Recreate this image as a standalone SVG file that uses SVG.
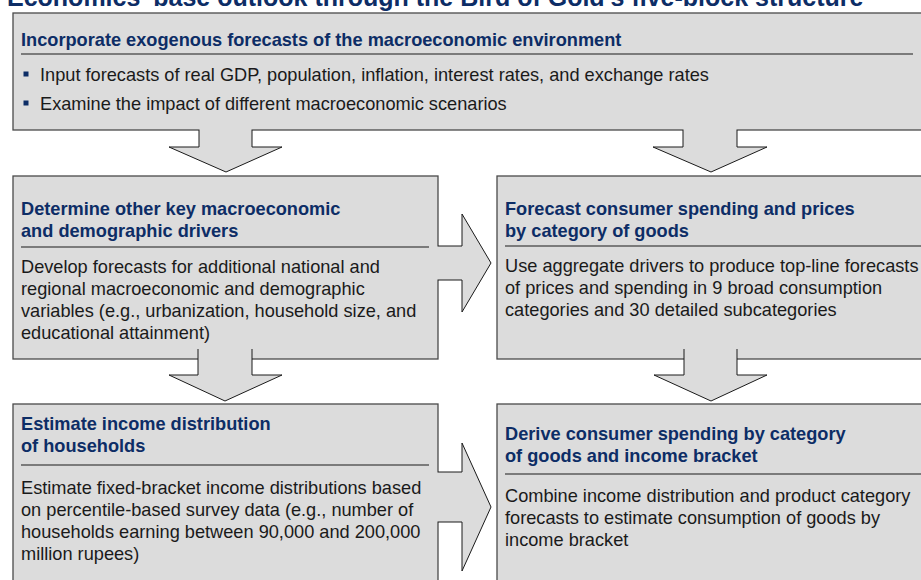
<svg xmlns="http://www.w3.org/2000/svg" width="921" height="580" viewBox="0 0 921 580">
<style>
.box{fill:#dcdcdc;stroke:#4a4a4a;stroke-width:1.3}
.arrow{fill:#dcdcdc;stroke:#1a1a1a;stroke-width:1}
.cover{fill:#dcdcdc;stroke:none}
.rule{stroke:#1a1a1a;stroke-width:1}
.title{font-family:"Liberation Sans",Arial,sans-serif;font-size:25px;font-weight:bold;fill:#0d2d66}
.hd{font-family:"Liberation Sans",Arial,sans-serif;font-size:18.2px;font-weight:bold;fill:#0d2d66}
.tx{font-family:"Liberation Sans",Arial,sans-serif;font-size:18.2px;fill:#1a1a1a}
.bul{fill:#0d2d66}
</style>
<rect width="921" height="580" fill="#ffffff"/>
<text class="title" x="7" y="6">Economics' base outlook through the Bird of Gold's five-block structure</text>

<g id="block1">
<rect class="box" x="13" y="13" width="920" height="117"/>
<text class="hd" x="21" y="46">Incorporate exogenous forecasts of the macroeconomic environment</text>
<line class="rule" x1="21" y1="54" x2="913" y2="54"/>
<rect class="bul" x="23.5" y="71.5" width="5" height="5"/>
<text class="tx" x="40" y="81">Input forecasts of real GDP, population, inflation, interest rates, and exchange rates</text>
<rect class="bul" x="23.5" y="100.5" width="5" height="5"/>
<text class="tx" x="40" y="110">Examine the impact of different macroeconomic scenarios</text>
</g>

<g id="block2">
<rect class="box" x="13" y="176" width="425" height="183"/>
<text class="hd" x="21" y="215">Determine other key macroeconomic</text>
<text class="hd" x="21" y="237">and demographic drivers</text>
<line class="rule" x1="21" y1="247" x2="429" y2="247"/>
<text class="tx" x="21" y="273">Develop forecasts for additional national and</text>
<text class="tx" x="21" y="295">regional macroeconomic and demographic</text>
<text class="tx" x="21" y="317">variables (e.g., urbanization, household size, and</text>
<text class="tx" x="21" y="339">educational attainment)</text>
</g>

<g id="block3">
<rect class="box" x="497" y="176" width="440" height="183"/>
<text class="hd" x="505" y="215">Forecast consumer spending and prices</text>
<text class="hd" x="505" y="237">by category of goods</text>
<line class="rule" x1="505" y1="246" x2="921" y2="246"/>
<text class="tx" x="505" y="272">Use aggregate drivers to produce top-line forecasts</text>
<text class="tx" x="505" y="294">of prices and spending in 9 broad consumption</text>
<text class="tx" x="505" y="316">categories and 30 detailed subcategories</text>
</g>

<g id="block4">
<rect class="box" x="13" y="404" width="425" height="190"/>
<text class="hd" x="21" y="430">Estimate income distribution</text>
<text class="hd" x="21" y="452">of households</text>
<line class="rule" x1="21" y1="465" x2="429" y2="465"/>
<text class="tx" x="21" y="494">Estimate fixed-bracket income distributions based</text>
<text class="tx" x="21" y="516">on percentile-based survey data (e.g., number of</text>
<text class="tx" x="21" y="538">households earning between 90,000 and 200,000</text>
<text class="tx" x="21" y="560">million rupees)</text>
</g>

<g id="block5">
<rect class="box" x="497" y="404" width="440" height="190"/>
<text class="hd" x="505" y="440">Derive consumer spending by category</text>
<text class="hd" x="505" y="462">of goods and income bracket</text>
<line class="rule" x1="505" y1="474" x2="921" y2="474"/>
<text class="tx" x="505" y="502">Combine income distribution and product category</text>
<text class="tx" x="505" y="524">forecasts to estimate consumption of goods by</text>
<text class="tx" x="505" y="546">income bracket</text>
</g>

<g id="connectors">
<rect class="cover" x="199.5" y="127" width="52" height="6"/>
<path class="arrow" d="M199,130 V147 H169 L226,172 L282,147 H252 V130"/>
<rect class="cover" x="683.5" y="127" width="53" height="6"/>
<path class="arrow" d="M683,130 V147 H653 L711,172 L767,147 H737 V130"/>
<rect class="cover" x="435" y="246.5" width="6" height="33"/>
<path class="arrow" d="M438,246 H462 V214 L491,263 L462,312 V280 H438"/>
<rect class="cover" x="198.5" y="355" width="53" height="7"/>
<path class="arrow" d="M198,349 V375 H169 L225,401 L282,375 H252 V349"/>
<rect class="cover" x="684.5" y="355" width="52" height="7"/>
<path class="arrow" d="M684,349 V375 H654 L711,401 L767,375 H737 V349"/>
<rect class="cover" x="435" y="472.5" width="6" height="49"/>
<path class="arrow" d="M438,472 H462 V443 L491,507 L462,571 V522 H438"/>
</g>
</svg>
